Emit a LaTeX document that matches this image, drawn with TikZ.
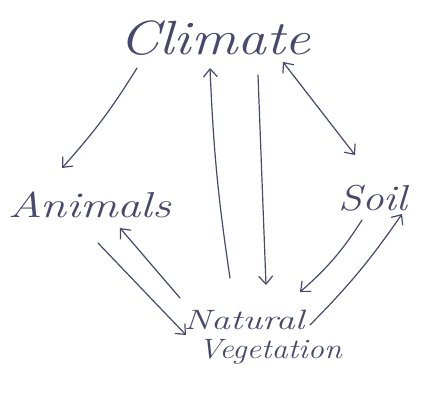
\documentclass[tikz,border=0pt]{standalone}
\usetikzlibrary{arrows.meta}
\definecolor{ink}{RGB}{70,72,110}
\begin{document}
\begin{tikzpicture}[x=1pt,y=-1pt,
  lbl/.style={text=ink,font=\itshape,inner sep=0pt},
  conn/.style={draw=ink,line width=1.2pt,line cap=round,-{Straight Barb[length=8pt,width=14pt]}},
  both/.style={conn,{Straight Barb[length=8pt,width=14pt]}-{Straight Barb[length=8pt,width=14pt]}}]
\useasboundingbox (0,0) rectangle (421,394);
\node[lbl,font=\itshape\fontsize{48}{52}\selectfont,xscale=1.2] (climate) at (215,38) {Climate};
\node[lbl,font=\itshape\fontsize{36}{40}\selectfont,xscale=1.3] (animals) at (90,205) {Animals};
\node[lbl,font=\itshape\fontsize{36}{40}\selectfont,anchor=west,xscale=1.2] (soil) at (338,198) {Soil};
\node[lbl,font=\itshape\fontsize{28}{32}\selectfont,xscale=1.35] (natural) at (244,320) {Natural};
\node[lbl,font=\itshape\fontsize{28}{32}\selectfont,xscale=1.15] (veg) at (270,352) {Vegetation};
% connector end points
\coordinate (c1) at (137,68);  \coordinate (a1) at (62,168);
\coordinate (v1) at (230,278); \coordinate (c2) at (210,68);
\coordinate (c3) at (258,75);  \coordinate (v2) at (266,285);
\coordinate (c4) at (283,62);  \coordinate (s1) at (355,155);
\coordinate (s2) at (362,220); \coordinate (v3) at (300,292);
\coordinate (v4) at (310,325); \coordinate (s3) at (402,214);
\coordinate (a2) at (98,243);  \coordinate (v5) at (186,335);
\coordinate (v6) at (180,298); \coordinate (a3) at (120,228);
\draw[conn] (c1) to[bend left=5] (a1);
\draw[conn] (v1) to[bend left=3] (c2);
\draw[conn] (c3) -- (v2);
\draw[both] (c4) -- (s1);
\draw[conn] (s2) to[bend left=8] (v3);
\draw[conn] (v4) to[bend right=5] (s3);
\draw[conn] (a2) -- (v5);
\draw[conn] (v6) -- (a3);
\end{tikzpicture}
\end{document}
